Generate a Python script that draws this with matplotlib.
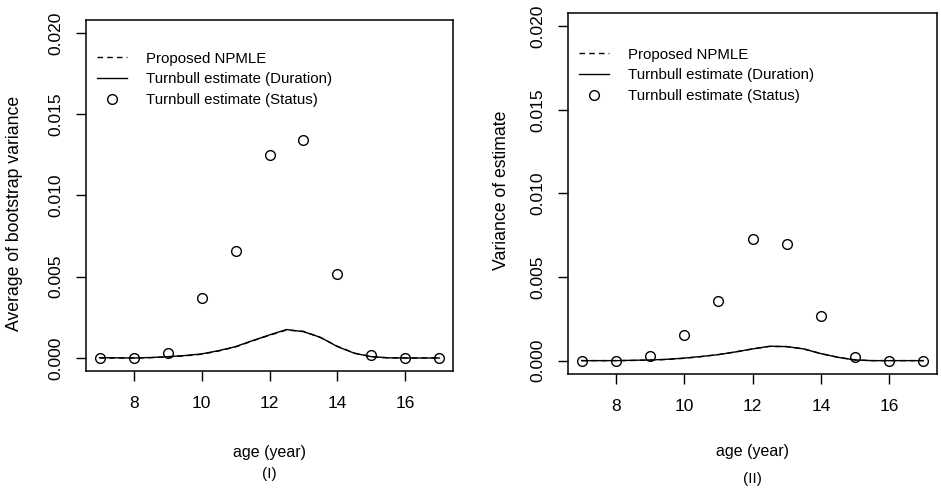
import matplotlib
matplotlib.use("Agg")
import matplotlib.pyplot as plt
from matplotlib.lines import Line2D

plt.rcParams['font.family'] = ['Liberation Sans', 'DejaVu Sans']

# status-based Turnbull estimates at whole ages
ages = [7, 8, 9, 10, 11, 12, 13, 14, 15, 16, 17]
status_boot = [0.0, 0.0, 0.0003, 0.0037, 0.0066, 0.0125, 0.0134, 0.0052, 0.0002, 0.0, 0.0]
status_var = [0.0, 0.0, 0.00028, 0.00154, 0.00357, 0.0073, 0.0070, 0.00267, 0.00024, 0.0, 0.0]

# smooth curves (NPMLE and duration-based Turnbull) on a half-year grid
grid = [7, 7.5, 8, 8.5, 9, 9.5, 10, 10.5, 11, 11.5, 12, 12.5, 13, 13.5, 14, 14.5, 15, 15.5, 16, 16.5, 17]
npmle_boot = [0.0, 0.0, 0.0, 0.00002, 0.00006, 0.00013, 0.00023, 0.00043, 0.00068, 0.00105, 0.0014, 0.00172,
              0.00164, 0.00126, 0.00072, 0.0003, 0.00008, 0.00001, 0.0, 0.0, 0.0]
dur_boot = [0.00002, 0.00001, 0.0, 0.00003, 0.00008, 0.00015, 0.00025, 0.00045, 0.0007, 0.00107, 0.00142, 0.00175,
            0.00162, 0.00127, 0.0007, 0.00029, 0.00008, 0.00001, 0.0, 0.0, 0.0]
npmle_var = [0.0, 0.0, 0.0, 0.00001, 0.00003, 0.00007, 0.00014, 0.00024, 0.00036, 0.00052, 0.0007, 0.00085,
             0.00084, 0.0007, 0.00042, 0.0002, 0.00004, 0.0, 0.0, 0.0, 0.0]
dur_var = [0.0, 0.0, 0.0, 0.00002, 0.00004, 0.00008, 0.00015, 0.00025, 0.00036, 0.00052, 0.0007, 0.00086,
           0.00084, 0.0007, 0.00042, 0.0002, 0.00004, 0.0, 0.0, 0.0, 0.0]

xticks = [8, 10, 12, 14, 16]
yticks = [0.000, 0.005, 0.010, 0.015, 0.020]

fig = plt.figure(figsize=(9.41, 4.93), dpi=100)
ax1 = fig.add_axes([86 / 941, 1 - 371 / 493, 367 / 941, 351 / 493])
ax2 = fig.add_axes([568 / 941, 1 - 374 / 493, 369 / 941, 361 / 493])

panels = [
    (ax1, status_boot, npmle_boot, dur_boot, "Average of bootstrap variance", "(I)",
     (-0.196, 0.45), -0.231, -0.293, 0.94),
    (ax2, status_var, npmle_var, dur_var, "Variance of estimate", "(II)",
     (-0.18, 0.51), -0.216, -0.29, 0.933),
]

for ax, pts, npmle, dur, ylab, tag, ylab_pos, xl_y, tag_y, leg_y in panels:
    ax.plot(grid, npmle, color="black", lw=1.0, ls=(0, (4, 3)))
    ax.plot(grid, dur, color="black", lw=1.0)
    ax.plot(ages, pts, ls="none", marker="o", ms=7, mfc="none", mec="black", mew=1.0)

    ax.set_xlim(6.6, 17.4)
    ax.set_ylim(-0.0008, 0.0208)
    ax.set_xticks(xticks)
    ax.set_yticks(yticks)
    ax.set_yticklabels([f"{v:.3f}" for v in yticks], rotation=90, va="center")
    ax.tick_params(axis="both", direction="out", length=7, width=1, labelsize=12.5, color="black")
    ax.tick_params(axis="x", pad=11)
    ax.tick_params(axis="y", pad=9)
    for s in ax.spines.values():
        s.set_linewidth(1.1)

    ax.text(ylab_pos[0], ylab_pos[1], ylab, rotation=90, ha="center", va="center",
            fontsize=12.7, transform=ax.transAxes)
    ax.text(0.5, xl_y, "age (year)", ha="center", va="center", fontsize=11.5, transform=ax.transAxes)
    ax.text(0.5, tag_y, tag, ha="center", va="center", fontsize=11, transform=ax.transAxes)

    handles = [
        Line2D([], [], color="black", lw=1.0, ls=(0, (4, 3))),
        Line2D([], [], color="black", lw=1.0),
        Line2D([], [], ls="none", marker="o", ms=7, mfc="none", mec="black", mew=1.0),
    ]
    ax.legend(handles, ["Proposed NPMLE", "Turnbull estimate (Duration)", "Turnbull estimate (Status)"],
              loc="upper left", bbox_to_anchor=(0.0, leg_y), frameon=False, fontsize=10.8,
              handlelength=2.0, handletextpad=1.3, labelspacing=0.45, borderaxespad=0.3)

fig.savefig("out.png", dpi=100)
